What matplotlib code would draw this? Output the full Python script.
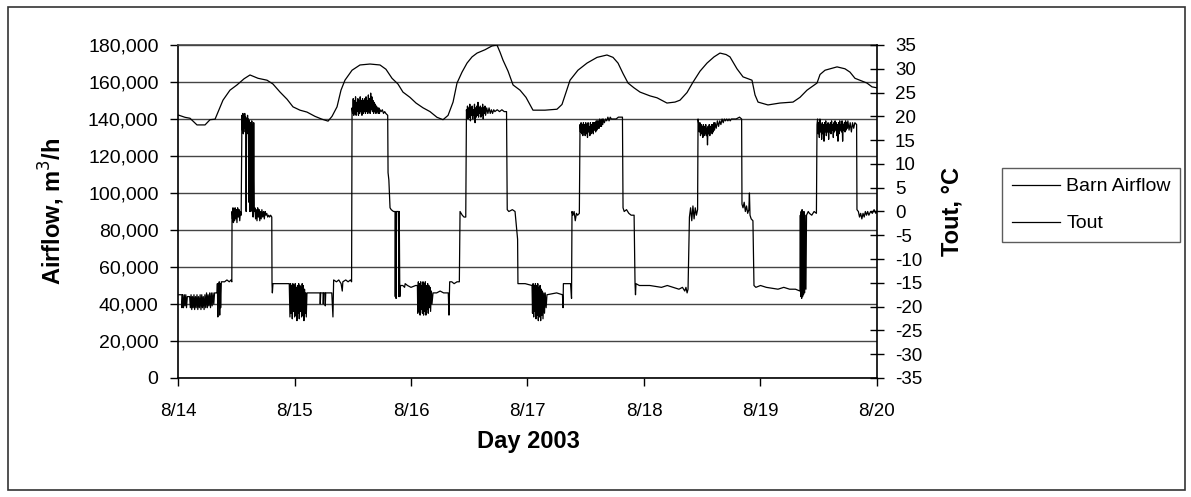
import matplotlib.pyplot as plt
import numpy as np
from matplotlib.ticker import FuncFormatter
from matplotlib.patches import Rectangle

plt.rcParams['font.family'] = ['Liberation Sans', 'DejaVu Sans']
plt.rcParams['axes.unicode_minus'] = False

# days after 8/14 00:00
day_labels = ['8/14', '8/15', '8/16', '8/17', '8/18', '8/19', '8/20']

# outside temperature, deg C
tout_days = [0.000, 0.060, 0.103, 0.163, 0.232, 0.275, 0.318, 0.386, 0.446, 0.506,
             0.567, 0.618, 0.687, 0.764, 0.815, 0.876, 0.936, 0.987, 1.047, 1.107,
             1.176, 1.236, 1.288, 1.322, 1.365, 1.399, 1.433, 1.494, 1.562, 1.648,
             1.734, 1.785, 1.837, 1.888, 1.931, 1.991, 2.043, 2.103, 2.163, 2.223,
             2.275, 2.318, 2.361, 2.395, 2.438, 2.481, 2.524, 2.567, 2.635, 2.695,
             2.738, 2.764, 2.790, 2.833, 2.876, 2.936, 2.987, 3.047, 3.150, 3.253,
             3.296, 3.330, 3.365, 3.433, 3.511, 3.597, 3.682, 3.734, 3.777, 3.820,
             3.863, 3.914, 3.966, 4.052, 4.112, 4.197, 4.266, 4.309, 4.369, 4.421,
             4.481, 4.541, 4.601, 4.652, 4.704, 4.738, 4.798, 4.850, 4.927, 4.953,
             4.979, 5.064, 5.167, 5.279, 5.339, 5.399, 5.485, 5.511, 5.554, 5.657,
             5.725, 5.768, 5.811, 5.914, 5.957, 6.000]
tout_vals = [20.3, 19.8, 19.6, 18.2, 18.2, 19.3, 19.4, 23.4, 25.5, 26.6,
             27.9, 28.7, 28.0, 27.6, 26.8, 25.1, 23.6, 22.0, 21.3, 20.9,
             20.0, 19.4, 19.0, 20.0, 22.0, 25.5, 27.6, 29.7, 30.8, 31.0,
             30.8, 29.9, 28.0, 26.8, 25.1, 24.0, 22.8, 21.8, 21.0, 19.8,
             19.3, 20.2, 23.0, 27.0, 29.3, 31.2, 32.5, 33.3, 34.0, 34.8,
             35.0, 33.5, 31.8, 29.5, 26.6, 25.5, 24.0, 21.3, 21.3, 21.5,
             22.5, 25.0, 27.6, 29.7, 31.2, 32.4, 32.9, 32.4, 31.2, 29.0,
             27.0, 26.0, 25.1, 24.3, 23.9, 22.8, 23.0, 23.4, 25.0, 27.2,
             29.5, 31.2, 32.5, 33.3, 33.0, 32.5, 30.0, 28.3, 27.6, 24.5,
             23.0, 22.4, 22.8, 23.0, 24.0, 25.5, 27.0, 28.8, 29.7, 30.4,
             30.0, 29.3, 28.0, 27.0, 26.2, 26.0]

# barn airflow, thousand m3/h (day, value)
airflow = [
    (0.000, 45), (0.034, 45), (0.034, 38), (0.040, 45), (0.047, 38), (0.054, 45), (0.060, 39),
    (0.067, 45), (0.073, 38), (0.080, 44), (0.100, 44), (0.106, 38), (0.112, 45), (0.118, 37),
    (0.124, 44), (0.130, 38), (0.137, 45), (0.143, 37), (0.150, 44), (0.156, 38), (0.163, 45),
    (0.170, 37), (0.176, 44), (0.183, 38), (0.190, 45), (0.197, 37), (0.204, 45), (0.210, 38),
    (0.217, 44), (0.224, 37), (0.231, 45), (0.238, 38), (0.245, 46), (0.252, 38), (0.258, 45),
    (0.265, 39), (0.272, 46), (0.279, 38), (0.286, 46), (0.293, 39), (0.300, 46), (0.307, 40),
    (0.314, 46), (0.322, 46), (0.335, 46), (0.338, 51), (0.342, 33), (0.346, 51), (0.350, 40),
    (0.354, 52), (0.358, 34), (0.362, 51), (0.366, 38), (0.372, 52), (0.400, 52), (0.420, 53),
    (0.440, 52), (0.455, 53), (0.462, 52), (0.464, 90), (0.468, 86), (0.472, 92), (0.476, 84),
    (0.480, 91), (0.485, 85), (0.490, 92), (0.495, 86), (0.500, 91), (0.506, 84), (0.512, 92),
    (0.518, 87), (0.524, 91), (0.530, 85), (0.536, 90), (0.542, 88), (0.549, 142), (0.553, 134),
    (0.557, 143), (0.561, 132), (0.565, 142), (0.569, 135), (0.573, 143), (0.577, 133), (0.581, 141),
    (0.585, 90), (0.589, 140), (0.593, 134), (0.597, 142), (0.601, 132), (0.605, 140), (0.609, 95),
    (0.613, 139), (0.617, 90), (0.621, 138), (0.625, 90), (0.629, 91), (0.633, 139), (0.637, 136),
    (0.641, 90), (0.645, 87), (0.650, 138), (0.655, 90), (0.660, 92), (0.666, 86), (0.672, 91),
    (0.678, 85), (0.684, 92), (0.690, 87), (0.696, 91), (0.702, 85), (0.708, 90), (0.714, 86),
    (0.720, 91), (0.727, 87), (0.734, 90), (0.741, 86), (0.748, 90), (0.755, 88), (0.762, 89),
    (0.770, 87), (0.778, 88), (0.786, 87), (0.795, 88), (0.805, 87), (0.807, 51), (0.810, 46),
    (0.815, 51), (0.900, 51), (0.955, 51), (0.961, 33), (0.966, 51), (0.971, 35), (0.976, 50),
    (0.981, 32), (0.986, 51), (0.991, 36), (0.996, 50), (1.001, 33), (1.006, 51), (1.011, 34),
    (1.016, 49), (1.021, 31), (1.026, 50), (1.031, 35), (1.036, 51), (1.041, 32), (1.046, 50),
    (1.051, 36), (1.056, 49), (1.061, 33), (1.066, 51), (1.071, 34), (1.076, 50), (1.081, 31),
    (1.086, 48), (1.091, 35), (1.096, 46), (1.101, 33), (1.107, 46), (1.200, 46), (1.219, 46),
    (1.221, 40), (1.225, 46), (1.245, 46), (1.247, 40), (1.251, 46), (1.262, 46), (1.264, 39),
    (1.268, 46), (1.320, 46), (1.330, 33), (1.336, 53), (1.360, 52), (1.380, 53), (1.400, 51),
    (1.410, 47), (1.415, 52), (1.440, 53), (1.460, 52), (1.480, 53), (1.490, 52), (1.494, 146),
    (1.499, 143), (1.504, 151), (1.509, 142), (1.514, 150), (1.519, 143), (1.524, 152), (1.529, 142),
    (1.534, 149), (1.539, 144), (1.544, 151), (1.549, 142), (1.554, 150), (1.559, 143), (1.564, 152),
    (1.569, 144), (1.574, 150), (1.579, 142), (1.584, 151), (1.589, 143), (1.594, 150), (1.599, 144),
    (1.604, 151), (1.609, 143), (1.614, 152), (1.619, 144), (1.624, 150), (1.629, 143), (1.634, 153),
    (1.639, 144), (1.644, 151), (1.649, 143), (1.654, 154), (1.659, 145), (1.664, 152), (1.669, 144),
    (1.674, 150), (1.679, 143), (1.684, 149), (1.689, 144), (1.694, 148), (1.699, 143), (1.704, 147),
    (1.709, 144), (1.714, 146), (1.719, 143), (1.724, 146), (1.729, 143), (1.734, 145), (1.744, 144),
    (1.754, 145), (1.764, 143), (1.774, 144), (1.784, 143), (1.800, 142), (1.803, 111), (1.810, 107),
    (1.820, 92), (1.830, 91), (1.850, 90), (1.863, 90), (1.865, 44), (1.868, 90), (1.872, 43),
    (1.876, 90), (1.893, 90), (1.896, 44), (1.899, 90), (1.904, 44), (1.910, 50), (1.930, 50),
    (1.945, 49), (1.950, 51), (1.970, 50), (2.000, 49), (2.040, 50), (2.055, 50), (2.058, 35),
    (2.063, 52), (2.068, 36), (2.073, 51), (2.078, 34), (2.083, 52), (2.088, 37), (2.093, 50),
    (2.098, 35), (2.103, 52), (2.108, 34), (2.113, 51), (2.118, 36), (2.123, 52), (2.128, 34),
    (2.133, 50), (2.138, 37), (2.143, 51), (2.148, 35), (2.153, 50), (2.158, 38), (2.163, 49),
    (2.168, 36), (2.175, 47), (2.180, 40), (2.189, 46), (2.220, 46), (2.250, 47), (2.280, 46),
    (2.320, 46), (2.326, 34), (2.332, 52), (2.350, 52), (2.370, 51), (2.395, 52), (2.415, 52),
    (2.421, 90), (2.430, 89), (2.440, 88), (2.455, 87), (2.470, 87), (2.476, 145), (2.480, 142),
    (2.485, 147), (2.490, 140), (2.495, 146), (2.500, 141), (2.505, 148), (2.510, 139), (2.515, 146),
    (2.520, 142), (2.525, 147), (2.530, 140), (2.535, 145), (2.540, 142), (2.545, 148), (2.550, 138),
    (2.555, 146), (2.560, 141), (2.565, 147), (2.570, 142), (2.575, 149), (2.580, 141), (2.585, 146),
    (2.590, 143), (2.595, 147), (2.600, 141), (2.605, 146), (2.610, 142), (2.615, 148), (2.620, 140),
    (2.625, 146), (2.630, 143), (2.635, 147), (2.640, 142), (2.650, 146), (2.660, 143), (2.670, 146),
    (2.680, 143), (2.690, 145), (2.700, 143), (2.710, 145), (2.720, 144), (2.740, 145), (2.760, 144),
    (2.780, 145), (2.800, 144), (2.820, 144), (2.826, 91), (2.840, 90), (2.870, 91), (2.893, 90),
    (2.915, 75), (2.918, 51), (2.980, 51), (3.039, 50), (3.043, 35), (3.048, 51), (3.053, 33),
    (3.058, 50), (3.063, 36), (3.068, 51), (3.073, 32), (3.078, 50), (3.083, 34), (3.088, 51),
    (3.093, 31), (3.098, 49), (3.103, 33), (3.108, 50), (3.113, 31), (3.118, 48), (3.123, 34),
    (3.128, 47), (3.133, 32), (3.140, 46), (3.146, 35), (3.152, 46), (3.160, 38), (3.167, 45),
    (3.250, 46), (3.300, 45), (3.305, 38), (3.308, 51), (3.370, 51), (3.378, 43), (3.382, 90),
    (3.390, 88), (3.400, 90), (3.410, 85), (3.420, 89), (3.430, 88), (3.445, 89), (3.451, 137),
    (3.455, 133), (3.460, 138), (3.465, 132), (3.470, 137), (3.475, 131), (3.480, 138), (3.485, 133),
    (3.490, 137), (3.495, 131), (3.500, 138), (3.505, 132), (3.510, 137), (3.515, 130), (3.520, 138),
    (3.525, 133), (3.530, 136), (3.535, 131), (3.540, 138), (3.545, 132), (3.550, 137), (3.555, 133),
    (3.560, 138), (3.565, 132), (3.570, 138), (3.575, 134), (3.580, 138), (3.585, 133), (3.590, 139),
    (3.595, 134), (3.600, 139), (3.605, 135), (3.610, 139), (3.615, 135), (3.620, 140), (3.625, 136),
    (3.630, 139), (3.635, 136), (3.640, 140), (3.645, 137), (3.650, 140), (3.660, 138), (3.670, 140),
    (3.680, 139), (3.690, 141), (3.700, 139), (3.710, 141), (3.720, 140), (3.740, 140), (3.760, 140),
    (3.780, 141), (3.815, 141), (3.820, 92), (3.830, 90), (3.850, 91), (3.870, 89), (3.890, 88),
    (3.915, 88), (3.923, 51), (3.927, 45), (3.931, 51), (3.960, 50), (4.050, 50), (4.150, 49),
    (4.200, 50), (4.250, 49), (4.300, 48), (4.330, 49), (4.350, 47), (4.360, 49), (4.370, 46),
    (4.378, 48), (4.390, 87), (4.400, 92), (4.410, 85), (4.420, 93), (4.430, 86), (4.440, 92),
    (4.450, 88), (4.460, 91), (4.464, 140), (4.470, 137), (4.475, 133), (4.480, 138), (4.485, 131),
    (4.490, 137), (4.495, 132), (4.500, 136), (4.505, 130), (4.510, 137), (4.515, 131), (4.520, 136),
    (4.525, 132), (4.530, 137), (4.535, 131), (4.540, 135), (4.545, 126), (4.550, 136), (4.555, 132),
    (4.560, 137), (4.565, 131), (4.570, 136), (4.575, 133), (4.580, 137), (4.585, 132), (4.590, 137),
    (4.595, 133), (4.600, 138), (4.605, 134), (4.610, 138), (4.620, 135), (4.630, 139), (4.640, 136),
    (4.650, 139), (4.660, 137), (4.670, 140), (4.680, 138), (4.690, 140), (4.700, 139), (4.710, 140),
    (4.720, 139), (4.730, 140), (4.740, 139), (4.750, 140), (4.770, 140), (4.790, 140), (4.820, 141),
    (4.838, 140), (4.841, 94), (4.850, 92), (4.860, 95), (4.870, 90), (4.880, 93), (4.890, 89),
    (4.900, 91), (4.905, 100), (4.910, 88), (4.920, 86), (4.935, 85), (4.944, 50), (4.960, 49),
    (5.000, 50), (5.050, 49), (5.150, 48), (5.200, 49), (5.250, 48), (5.300, 48), (5.339, 47),
    (5.342, 88), (5.345, 44), (5.349, 90), (5.353, 43), (5.357, 91), (5.361, 44), (5.365, 89),
    (5.369, 45), (5.373, 90), (5.378, 46), (5.383, 88), (5.390, 48), (5.395, 88), (5.410, 90),
    (5.420, 89), (5.440, 88), (5.460, 90), (5.480, 89), (5.485, 137), (5.490, 140), (5.495, 132),
    (5.500, 138), (5.505, 130), (5.510, 140), (5.515, 133), (5.520, 137), (5.525, 129), (5.530, 138),
    (5.535, 132), (5.540, 137), (5.545, 128), (5.550, 138), (5.555, 133), (5.560, 139), (5.565, 131),
    (5.570, 137), (5.575, 133), (5.580, 138), (5.585, 129), (5.590, 137), (5.595, 133), (5.600, 138),
    (5.605, 132), (5.610, 139), (5.615, 134), (5.620, 137), (5.625, 130), (5.630, 138), (5.635, 133),
    (5.640, 139), (5.645, 134), (5.650, 138), (5.655, 131), (5.660, 137), (5.665, 128), (5.670, 138),
    (5.675, 132), (5.680, 139), (5.685, 134), (5.690, 137), (5.695, 133), (5.700, 139), (5.705, 128),
    (5.710, 137), (5.715, 134), (5.720, 138), (5.725, 133), (5.730, 139), (5.735, 134), (5.740, 138),
    (5.745, 135), (5.750, 139), (5.760, 134), (5.770, 138), (5.780, 133), (5.790, 138), (5.800, 135),
    (5.810, 138), (5.825, 137), (5.828, 91), (5.840, 90), (5.850, 87), (5.860, 89), (5.870, 86),
    (5.880, 89), (5.890, 87), (5.900, 90), (5.910, 88), (5.920, 90), (5.930, 88), (5.945, 90),
    (5.960, 89), (5.975, 91), (5.990, 89), (6.000, 90),
]
airflow_days = [p[0] for p in airflow]
airflow_vals = [p[1] * 1000 for p in airflow]

fig = plt.figure(figsize=(11.91, 4.97), dpi=100)
ax1 = fig.add_axes([178 / 1191, 1 - 378 / 497, 699 / 1191, 333 / 497])
ax2 = ax1.twinx()

grid_col = '#444444'
ax1.set_axisbelow(True)
ax1.yaxis.grid(True, color=grid_col, linewidth=1.0)

l1, = ax1.plot(airflow_days, airflow_vals, color='black', linewidth=0.9)
l2, = ax2.plot(tout_days, tout_vals, color='black', linewidth=0.9)

ax1.set_xlim(0, 6)
ax1.set_ylim(0, 180000)
ax1.set_yticks(np.arange(0, 180001, 20000))
ax1.yaxis.set_major_formatter(FuncFormatter(lambda v, p: f'{int(v):,}'))
ax1.set_xticks(range(7))
ax1.set_xticklabels(day_labels)
ax2.set_ylim(-35, 35)
ax2.set_yticks(np.arange(-35, 36, 5))

for ax in (ax1, ax2):
    ax.spines['top'].set_color(grid_col)
    for s in ax.spines.values():
        s.set_linewidth(1.2)
ax1.spines['right'].set_visible(False)
ax2.spines['left'].set_visible(False)
ax2.spines['bottom'].set_visible(False)
ax2.spines['top'].set_visible(False)

ax1.tick_params(axis='y', direction='out', length=6, width=1, labelsize=14, pad=8)
ax1.tick_params(axis='x', direction='out', length=6, width=1, labelsize=13.5, pad=12)
ax2.tick_params(axis='y', direction='inout', length=10, width=1, labelsize=13.5, pad=8)

ax1.set_xlabel('Day 2003', fontsize=17, fontweight='bold')
ax1.xaxis.set_label_coords(0.5007, -0.192)
ax1.xaxis.label.set_verticalalignment('center')
ax1.set_ylabel('Airflow, m$^3$/h', fontsize=17, fontweight='bold')
ax1.yaxis.set_label_coords(-0.180, 0.5)
ax1.yaxis.label.set_verticalalignment('center')
ax2.set_ylabel('Tout, °C', fontsize=17, fontweight='bold')
ax2.yaxis.set_label_coords(1.108, 0.5)
ax2.yaxis.label.set_verticalalignment('center')

fig.legend([l1, l2], ['Barn Airflow', 'Tout'], loc='upper left',
           bbox_to_anchor=(1002 / 1191, 1 - 173 / 497, 178 / 1191, 0.01), mode='expand',
           fontsize=14, frameon=True, fancybox=False, edgecolor='#333333',
           handlelength=2.5, handletextpad=0.3, labelspacing=1.0, borderpad=0.5,
           borderaxespad=0)

fig.patches.append(Rectangle((8 / 1191, 1 - 490 / 497), 1177 / 1191, 483 / 497,
                             transform=fig.transFigure, fill=False,
                             edgecolor='#333333', linewidth=1.2))

fig.savefig('out.png', dpi=100)
